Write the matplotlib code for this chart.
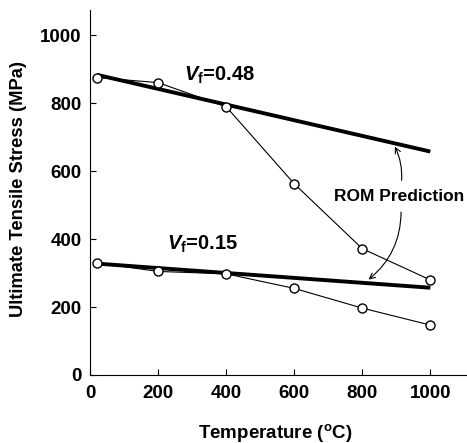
import matplotlib
matplotlib.use('Agg')
import matplotlib.pyplot as plt

plt.rcParams['font.family'] = ['Liberation Sans', 'DejaVu Sans']
plt.rcParams['font.weight'] = 'bold'
plt.rcParams['mathtext.fontset'] = 'custom'
plt.rcParams['mathtext.rm'] = 'Liberation Sans:bold'
plt.rcParams['mathtext.bf'] = 'Liberation Sans:bold'
plt.rcParams['mathtext.it'] = 'Liberation Sans:italic:bold'

# measured data (temperature in C, stress in MPa)
temp = [20, 200, 400, 600, 800, 1000]
uts_048 = [876, 861, 790, 563, 372, 280]
uts_015 = [330, 305, 298, 255, 197, 147]

# rule of mixtures predictions
rom_temp = [20, 1000]
rom_048 = [884, 658]
rom_015 = [328, 257]

xticks = [0, 200, 400, 600, 800, 1000]
yticks = [0, 200, 400, 600, 800, 1000]

fig = plt.figure(figsize=(4.67, 4.43), dpi=100)
ax = fig.add_axes([0.193, 0.1535, 0.805, 0.824])

ax.plot(rom_temp, rom_048, color='black', lw=2.8, solid_capstyle='butt', zorder=2)
ax.plot(rom_temp, rom_015, color='black', lw=2.8, solid_capstyle='butt', zorder=2)
ax.plot(temp, uts_048, color='black', lw=0.8, marker='o', ms=6.5,
        mfc='white', mec='black', mew=1.0, zorder=3)
ax.plot(temp, uts_015, color='black', lw=0.8, marker='o', ms=6.5,
        mfc='white', mec='black', mew=1.0, zorder=3)

ax.text(275, 882, r'$\mathit{V}_\mathbf{f}$=0.48', fontsize=14.5, va='center', ha='left')
ax.text(226, 385, r'$\mathit{V}_\mathbf{f}$=0.15', fontsize=14.5, va='center', ha='left')
ax.text(716, 525, 'ROM Prediction', fontsize=12.5, va='center', ha='left')

# curved arrows from the label to the two ROM lines
ax.annotate('', xy=(892, 680), xytext=(915, 565),
            arrowprops=dict(arrowstyle='->', color='black', lw=0.8,
                            connectionstyle='arc3,rad=0.15'))
ax.annotate('', xy=(812, 276), xytext=(914, 488),
            arrowprops=dict(arrowstyle='->', color='black', lw=0.8,
                            connectionstyle='arc3,rad=-0.25'))

ax.set_xlim(0, 1105)
ax.set_ylim(0, 1075)
ax.set_xticks(xticks)
ax.set_yticks(yticks)
ax.tick_params(direction='in', length=4, width=0.8, labelsize=13.5)
ax.tick_params(axis='x', pad=7)
ax.tick_params(axis='y', pad=6)
for lab in ax.get_xticklabels() + ax.get_yticklabels():
    lab.set_fontweight('bold')
ax.spines['top'].set_visible(False)
ax.spines['right'].set_visible(False)
ax.spines['left'].set_linewidth(0.8)
ax.spines['bottom'].set_linewidth(0.8)

# axis titles placed on the figure
fig.text(0.59, 0.023, r'Temperature ($^\mathbf{o}$C)', fontsize=13.5,
         fontweight='bold', ha='center', va='center')
fig.text(0.04, 0.573, 'Ultimate Tensile Stress (MPa)', fontsize=13.2,
         fontweight='bold', ha='center', va='center', rotation=90)

plt.savefig('out.png', dpi=100)
